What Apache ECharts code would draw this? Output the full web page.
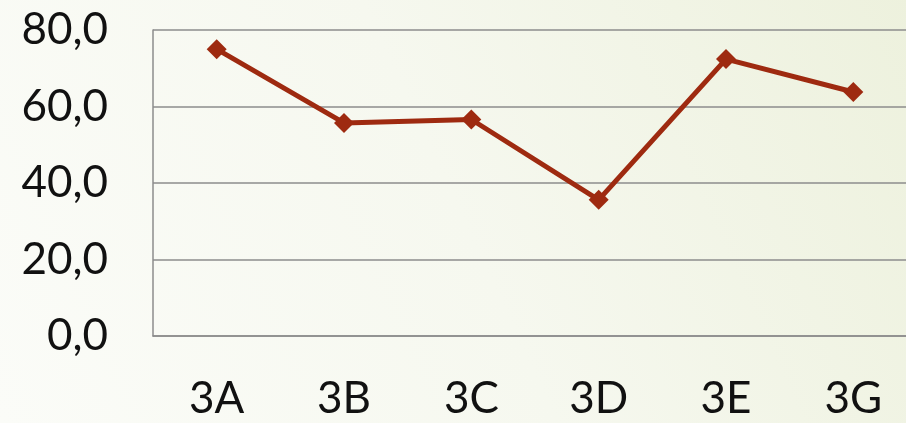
<!DOCTYPE html>
<html><head><meta charset="utf-8">
<script src="https://cdn.jsdelivr.net/npm/echarts@6/dist/echarts.min.js"></script>
<style>html,body{margin:0;padding:0;overflow:hidden;width:906px;height:423px;}#c{width:917px;height:423px;}</style>
</head><body><div id="c"></div>
<script>
const categories = ['3A','3B','3C','3D','3E','3G'];
const values = [75.0, 55.7, 56.6, 35.6, 72.4, 63.8];
const yTicks = {min: 0, max: 80, interval: 20};

const chart = echarts.init(document.getElementById('c'));
chart.setOption({
  backgroundColor: {type:'linear', x:0, y:1, x2:1, y2:0, colorStops:[{offset:0,color:'#fbfcf8'},{offset:0.5,color:'#f6f8ef'},{offset:1,color:'#edf1dd'}]},
  animation:false,
  grid:{left:153, right:0, top:30, height:306},
  xAxis:{type:'category', data:categories, boundaryGap:true,
    axisLine:{lineStyle:{color:'#8c8c8c', width:1.5}}, axisTick:{show:false},
    axisLabel:{color:'#111', fontSize:44, fontWeight:400, fontFamily:'Lato', margin:41}},
  yAxis:{type:'value', min:yTicks.min, max:yTicks.max, interval:yTicks.interval,
    axisLine:{show:true, lineStyle:{color:'#8c8c8c', width:1.5}}, axisTick:{show:false},
    splitLine:{lineStyle:{color:'#8c8c8c', width:1.5}},
    axisLabel:{color:'#111', fontSize:44, fontWeight:400, fontFamily:'Lato', margin:45, formatter:v=>v.toFixed(1).replace('.',',')}},
  series:[{type:'line', data:values, symbol:'diamond', symbolSize:20,
    lineStyle:{color:'#9e2a10', width:5}, itemStyle:{color:'#9e2a10'}}]
});
</script></body></html>
